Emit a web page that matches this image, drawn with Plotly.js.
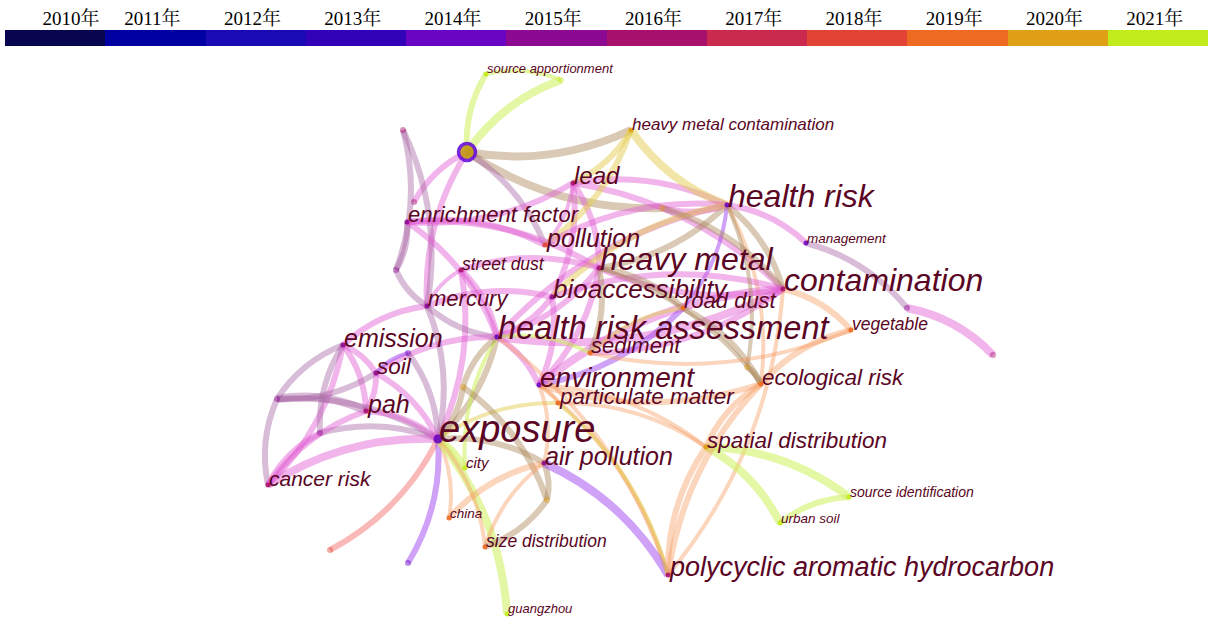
<!DOCTYPE html>
<html>
<head>
<meta charset="utf-8">
<script src="https://cdn.plot.ly/plotly-3.0.1.min.js"></script>
<style>
  html, body { margin: 0; padding: 0; background: #ffffff; }
  #chart { width: 1208px; height: 623px; }
</style>
</head>
<body>
<div id="chart"></div>
<script>
// Timeline legend: one slice per year
const YEARS = ['2010年','2011年','2012年','2013年','2014年','2015年','2016年','2017年','2018年','2019年','2020年','2021年'];
const YEAR_NUM = [2010,2011,2012,2013,2014,2015,2016,2017,2018,2019,2020,2021];
const YEAR_COLORS = ['#07064f','#0000a3','#1a0ab3','#3202b9','#6a05c3','#8b0a91','#a8106e','#c92a4e','#e24335','#ee6a22','#dfa015','#c2ec1c'];

// Keyword nodes (layout coordinates of the co-occurrence map)
const NODE_ID    = ['hub','sa','sa2','hmc','lead','hr','ef','pol','hm','mgmt','cont','sd','bio','rd','merc','hra','em','veg','sed','soil','env','eco','pm','pah','exp','spd','ap','city','cr','si','us','china','szd','pahc','gz',
                    'u1','u2','u3','u4','u5','u6','u7','u8','u9','u10','u11','u12','u13','u14'];
const NODE_LABEL = ['','source apportionment','','heavy metal contamination','lead','health risk','enrichment factor','pollution','heavy metal','management','contamination','street dust','bioaccessibility','road dust','mercury','health risk assessment','emission','vegetable','sediment','soil','environment','ecological risk','particulate matter','pah','exposure','spatial distribution','air pollution','city','cancer risk','source identification','urban soil','china','size distribution','polycyclic aromatic hydrocarbon','guangzhou',
                    '','','','','','','','','','','','','',''];
const NODE_X     = [467,486,561,631,573,727,407,545,599,806,783,461,552,683,427,497,343,851,590,376,539,761,558,366,438,706,544,465,268,849,780,449,485,668,507,
                    403,414,396,277,320,408,463,330,408,547,662,747,907,993];
const NODE_Y     = [152,74,80,130,183,205,222,245,268,243,289,270,297,308,306,337,345,330,353,373,385,384,403,411,439,447,463,468,485,497,523,518,547,575,614,
                    130,202,270,399,433,353,387,550,563,500,208,367,308,355];
const NODE_WEIGHT = [0,13,0,17,24,32,22,25,32,13.5,32,17.5,26,22,22,32.5,25,17.5,22,22.5,28,22.5,22.5,25,38,22.5,25,15,21,14,13.5,13.5,17.5,27,13,
                    0,0,0,0,0,0,0,0,0,0,0,0,0,0];
const NODE_YEAR  = [2014,2021,2021,2020,2016,2014,2015,2018,2016,2014,2016,2016,2015,2019,2015,2014,2015,2019,2019,2015,2014,2019,2019,2016,2014,2020,2015,2021,2016,2021,2021,2019,2019,2016,2021,
                    2016,2016,2015,2015,2015,2014,2020,2018,2014,2020,2020,2020,2015,2016];

// Co-occurrence links: [from, to, year of first co-occurrence, strength]
const LINKS = [
  ['hub','sa',2021,2], ['hub','sa2',2021,3], ['sa','sa2',2021,1],
  ['hmc','hub',2017,3], ['u11','hub',2017,3], ['u2','hub',2016,2], ['merc','hub',2016,2], ['hub','pol',2015,2],
  ['u1','u3',2015,2], ['u1','merc',2015,2],
  ['ef','u3',2015,2], ['ef','hra',2016,2], ['ef','pol',2016,2], ['ef','hm',2016,2], ['lead','ef',2016,2],
  ['lead','hm',2016,2], ['lead','pol',2016,1], ['lead','hr',2016,2], ['hmc','lead',2020,2], ['lead','bio',2016,2], ['lead','cont',2016,2],
  ['hr','hmc',2020,3], ['hmc','pol',2020,2],
  ['hr','u11',2016,2], ['hr','hm',2017,2], ['hr','cont',2017,2], ['hr','mgmt',2016,2], ['hra','hr',2016,2], ['hr','eco',2019,1], ['hr','rd',2014,1], ['pol','hr',2016,2], ['bio','hr',2020,2],
  ['mgmt','u13',2015,2], ['u13','u14',2016,3],
  ['cont','hm',2016,2], ['cont','hra',2016,3], ['env','cont',2016,3], ['cont','sed',2016,2], ['cont','veg',2019,2], ['cont','pahc',2019,1], ['u11','cont',2017,2], ['bio','cont',2016,2],
  ['hm','hra',2016,2], ['hm','env',2016,2], ['hm','sed',2017,2], ['sd','hm',2016,2], ['hm','rd',2017,2], ['hm','eco',2017,1],
  ['sd','hra',2016,2], ['merc','sd',2016,1], ['sd','exp',2016,2],
  ['bio','hra',2016,2], ['bio','env',2016,2], ['merc','bio',2016,2],
  ['rd','env',2014,2], ['rd','eco',2017,2], ['sed','rd',2020,1],
  ['em','merc',2016,2], ['merc','u3',2015,2], ['merc','exp',2015,2], ['hra','merc',2015,2],
  ['hra','exp',2017,2], ['hra','env',2016,2], ['city','hra',2021,1], ['hra','sed',2021,1], ['u7','hra',2017,2], ['hra','pahc',2019,1], ['soil','hra',2016,2],
  ['u4','em',2015,2], ['em','cr',2016,2], ['em','pah',2016,2], ['u5','em',2015,2], ['em','soil',2016,2],
  ['soil','u4',2015,2], ['soil','pah',2016,2], ['soil','u6',2014,1], ['u6','exp',2015,2], ['soil','exp',2016,2],
  ['cr','u4',2015,2], ['u4','pah',2015,3], ['u4','exp',2015,2], ['cr','u5',2016,2], ['u5','exp',2015,2],
  ['pah','exp',2016,2], ['cr','pah',2016,2], ['cr','exp',2016,3],
  ['exp','u8',2018,2], ['exp','u9',2014,2], ['exp','china',2019,1], ['exp','city',2021,2], ['exp','gz',2021,3], ['exp','ap',2017,2], ['exp','szd',2019,1], ['u7','exp',2017,2], ['exp','pm',2020,1],
  ['env','pm',2019,1], ['env','ap',2019,1], ['env','pahc',2019,1], ['env','spd',2019,1], ['eco','env',2019,2],
  ['u7','u10',2017,2], ['ap','u10',2017,2], ['ap','pahc',2014,3], ['china','ap',2019,2], ['szd','ap',2019,1], ['u10','szd',2017,2],
  ['spd','si',2021,3], ['spd','us',2021,3], ['us','si',2021,2], ['spd','eco',2019,2], ['pahc','spd',2019,2],
  ['pahc','eco',2019,2], ['eco','veg',2019,2], ['u12','eco',2017,2], ['hr','u12',2017,1],
  ['pm','pahc',2020,1], ['pm','spd',2019,1], ['veg','sed',2019,1]
];

// Link tints (translucent so crossings deepen)
const LINK_TINT = {
  2014: 'rgba(160,70,240,0.50)',
  2015: 'rgba(165,95,160,0.42)',
  2016: 'rgba(225,90,210,0.45)',
  2017: 'rgba(170,135,90,0.45)',
  2018: 'rgba(245,115,115,0.50)',
  2019: 'rgba(245,155,95,0.42)',
  2020: 'rgba(228,205,80,0.50)',
  2021: 'rgba(205,240,90,0.55)'
};

const LABEL_COLOR = '#5a0624';
const W = 1208, H = 623;

const idx = {};
NODE_ID.forEach((id, i) => { idx[id] = i; });
const yearColor = y => YEAR_COLORS[YEAR_NUM.indexOf(y)];

// curved links as quadratic paths in data coordinates
const shapes = LINKS.map(([a, b, yr, s]) => {
  const x0 = NODE_X[idx[a]], y0 = NODE_Y[idx[a]];
  const x1 = NODE_X[idx[b]], y1 = NODE_Y[idx[b]];
  const dx = x1 - x0, dy = y1 - y0;
  const bend = 0.16;
  const cx = (x0 + x1) / 2 + dy * bend;
  const cy = (y0 + y1) / 2 - dx * bend;
  return {
    type: 'path', xref: 'x', yref: 'y', layer: 'below',
    path: `M ${x0},${y0} Q ${cx},${cy} ${x1},${y1}`,
    line: { color: LINK_TINT[yr], width: 2 + s * 2 }
  };
});

// timeline strip
const segW = (W - 5) / YEARS.length;
const segStart = YEARS.map((_, i) => 5 + i * segW);
const timeline = {
  type: 'bar', orientation: 'h',
  x: YEARS.map(() => segW), base: segStart, y: YEARS.map(() => 38),
  width: 15.6,
  marker: { color: YEAR_COLORS, line: { width: 0 } },
  hoverinfo: 'skip', showlegend: false
};
const yearText = {
  type: 'scatter', mode: 'text',
  x: segStart.map((s, i) => Math.max(s + segW / 2 - 3, 71)), y: YEARS.map(() => 20),
  text: YEARS,
  textfont: { family: '"Liberation Serif", "Noto Serif CJK SC", "Noto Sans CJK SC", serif', size: 19, color: '#000000' },
  hoverinfo: 'skip', showlegend: false
};

// node dots
const dots = {
  type: 'scatter', mode: 'markers',
  x: NODE_X, y: NODE_Y,
  marker: {
    size: NODE_ID.map((id, i) => id === 'hub' ? 17 : (id === 'exp' ? 9 : (NODE_LABEL[i] ? 5 : 6))),
    color: NODE_ID.map((id, i) => id === 'hub' ? '#c49a12' : yearColor(NODE_YEAR[i])),
    opacity: NODE_ID.map((id, i) => NODE_LABEL[i] || id === 'hub' ? 0.9 : 0.45),
    line: {
      color: NODE_ID.map(id => id === 'hub' ? '#6a10d8' : 'rgba(0,0,0,0)'),
      width: NODE_ID.map(id => id === 'hub' ? 3.5 : 0)
    }
  },
  hoverinfo: 'skip', showlegend: false
};

// keyword labels, baseline sitting on the node dot
const annotations = [];
NODE_ID.forEach((id, i) => {
  if (!NODE_LABEL[i]) return;
  const sz = NODE_WEIGHT[i];
  annotations.push({
    x: NODE_X[i], y: NODE_Y[i], xref: 'x', yref: 'y',
    text: NODE_LABEL[i], showarrow: false,
    xanchor: 'left', yanchor: 'bottom',
    yshift: -sz * 0.34, xshift: -1,
    font: { family: '"Liberation Sans", Arial, sans-serif', size: sz, color: LABEL_COLOR, style: 'italic' }
  });
});

const layout = {
  width: W, height: H,
  margin: { l: 0, r: 0, t: 0, b: 0 },
  paper_bgcolor: '#ffffff', plot_bgcolor: '#ffffff',
  xaxis: { range: [0, W], visible: false, fixedrange: true },
  yaxis: { range: [H, 0], visible: false, fixedrange: true },
  shapes: shapes,
  annotations: annotations,
  showlegend: false,
  bargap: 0
};

Plotly.newPlot('chart', [timeline, dots, yearText], layout, { displayModeBar: false, staticPlot: true });
</script>
</body>
</html>
